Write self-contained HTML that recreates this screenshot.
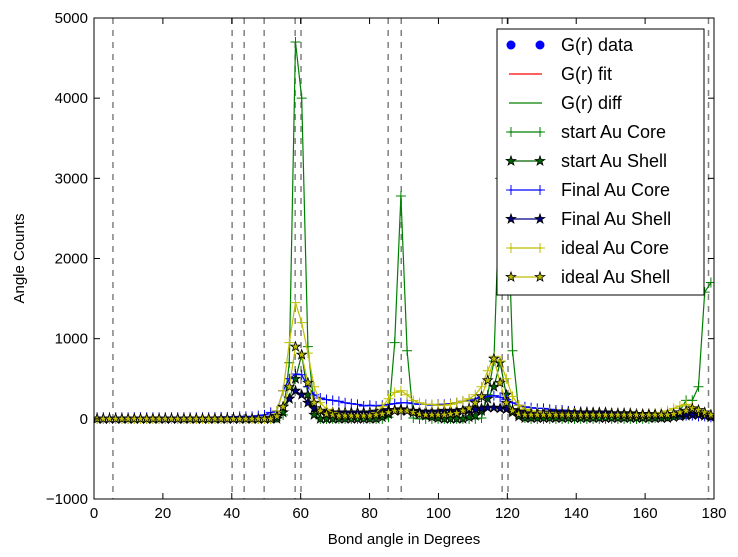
<!DOCTYPE html>
<html><head><meta charset="utf-8"><style>
body{margin:0;background:#fff;}
svg{display:block;font-family:"Liberation Sans",sans-serif;}
</style></head><body>
<svg id="chart" width="738" height="557"></svg>
<script>
const xTicks=[0,20,40,60,80,100,120,140,160,180];
const yTicks=[-1000,0,1000,2000,3000,4000,5000];
const vLines=[5.5,40.1,43.6,49.4,58.4,60.1,85.4,89.2,118.5,120.2,178.4];
const startCore=[0,0,0,0,0,0,0,0,0,0, 0,0,0,0,0,0,0,0,0,0, 0,0,0,0,0,0,0,0,0,10,
50,700,4700,4000,900,150,0,0,0,0, 0,0,0,0,0,0,0,20,950,2780, 850,10,0,0,0,0,0,0,0,0,
0,0,10,300,720,3000,3200,850,100,10, 0,0,0,0,0,0,0,0,0,0, 0,0,0,0,0,0,0,0,0,0,
10,20,30,60,100,230,230,400,1580,1700];
const startShell=[0,0,0,0,0,0,0,0,0,0, 0,0,0,0,0,0,0,0,0,0, 0,0,0,0,0,0,0,0,0,0,
80,250,500,800,300,50,0,0,0,0, 0,0,0,0,0,0,20,60,100,120, 100,80,60,40,20,10,0,0,0,0,
20,40,100,250,400,700,300,80,30,10, 10,10,10,10,10,10,10,10,10,10, 10,10,10,10,10,10,10,10,10,10,
10,10,10,20,30,40,50,60,40,20];
const finalCore=[20,20,20,20,20,20,20,20,20,20, 20,20,20,20,20,20,20,20,20,20, 25,25,25,30,30,30,40,50,80,100,
350,500,560,550,400,300,260,240,230,220, 200,190,180,160,170,160,170,180,190,200, 200,190,180,180,170,180,180,190,200,220,
230,250,270,280,290,270,240,200,170,150, 140,130,130,120,110,110,100,100,90,90, 80,80,80,70,70,70,60,60,60,60,
60,50,50,50,50,40,40,30,30,20];
const finalShell=[0,0,0,0,0,0,0,0,0,0, 0,0,0,0,0,0,0,0,0,0, 0,0,0,0,0,0,0,0,10,40,
150,250,350,300,200,130,100,90,80,80, 80,80,80,80,80,90,100,110,110,110, 100,100,90,90,90,90,100,100,100,110,
110,120,130,140,140,130,120,110,100,90, 80,80,80,80,80,80,80,80,80,80, 80,80,80,70,70,70,70,60,60,60,
60,60,60,60,60,60,50,50,40,30];
const idealCore=[0,0,0,0,0,0,0,0,0,0, 0,0,0,0,0,0,0,0,0,0, 0,0,0,0,0,0,0,0,0,100,
350,950,1450,1200,820,400,200,120,80,60, 60,50,50,50,60,80,150,250,330,350, 300,230,200,180,180,170,170,180,200,220,
250,300,400,600,780,720,500,280,170,120, 100,90,80,80,70,70,70,70,60,60, 60,60,60,60,60,60,60,60,60,60,
70,80,100,130,160,180,150,100,80,60];
const idealShell=[0,0,0,0,0,0,0,0,0,0, 0,0,0,0,0,0,0,0,0,0, 0,0,0,0,0,0,0,0,0,30,
150,400,900,800,450,200,100,60,50,40, 40,40,40,40,40,50,60,80,100,100, 100,80,60,50,50,50,50,60,70,100,
130,200,280,480,750,450,200,100,60,50, 50,50,50,50,50,50,50,50,50,50, 50,50,50,50,50,50,50,50,50,50,
50,50,50,60,80,100,130,110,80,50];
const angles=startCore.map((_,k)=>0.9+1.8*k);

const NS="http://www.w3.org/2000/svg";
const svg=document.getElementById('chart');
const L=94,R=714,T=18,B=499;
const sx=v=>L+(v-0)/180*(R-L);
const sy=v=>B-(v+1000)/6000*(B-T);
function el(tag,attrs,parent){const e=document.createElementNS(NS,tag);for(const k in attrs)e.setAttribute(k,attrs[k]);(parent||svg).appendChild(e);return e;}

const plot=el('g',{});


const clip=el('clipPath',{id:'cp'});el('rect',{x:L,y:T,width:R-L,height:B-T},clip);

// vertical dashed lines
vLines.forEach(v=>{
  const l=el('line',{x1:sx(v),x2:sx(v),y1:T,y2:B,stroke:'#808080','stroke-width':1.5,'stroke-dasharray':'6,6'},plot);
  
  
});

function starPts(cx,cy,r){let p=[];for(let i=0;i<10;i++){const a=-Math.PI/2+i*Math.PI/5;const rr=i%2?r*0.4:r;p.push((cx+rr*Math.cos(a)).toFixed(1)+','+(cy+rr*Math.sin(a)).toFixed(1));}return p.join(' ');}
function marker(g,type,x,y,color){
  if(type==='plus'){el('path',{d:`M${x-5},${y}H${x+5}M${x},${y-5}V${y+5}`,stroke:color,'stroke-width':1},g);}
  else{el('polygon',{points:starPts(x,y,5),fill:color,stroke:'#000','stroke-width':0.8},g);}
}
function series(vals,color,type,name){
  const g=el('g',{'clip-path':'url(#cp)'},plot);
  
  
  el('polyline',{points:vals.map((v,i)=>sx(angles[i])+','+sy(v)).join(' '),fill:'none',stroke:type==='star'?color==='y'?'#bfbf00':color:color,'stroke-width':1.2},g);
  vals.forEach((v,i)=>marker(g,type,sx(angles[i]),sy(v),color));
}
series(startCore,'#008000','plus','start-au-core-series');
series(startShell,'#006400','star','start-au-shell-series');
series(finalCore,'#0000ff','plus','final-au-core-series');
series(finalShell,'#000080','star','final-au-shell-series');
series(idealCore,'#bfbf00','plus','ideal-au-core-series');
series(idealShell,'#bfbf00','star','ideal-au-shell-series');

// frame
const frame=el('rect',{x:L,y:T,width:R-L,height:B-T,fill:'none',stroke:'#000','stroke-width':1});



xTicks.forEach(t=>{
  const x=sx(t);
  el('line',{x1:x,x2:x,y1:B,y2:B-6,stroke:'#000'});
  el('line',{x1:x,x2:x,y1:T,y2:T+6,stroke:'#000'});
  const tx=el('text',{x:x,y:B+19,'text-anchor':'middle','font-size':15});
  tx.textContent=t;
  
  
});
yTicks.forEach(t=>{
  const y=sy(t);
  el('line',{x1:L,x2:L+6,y1:y,y2:y,stroke:'#000'});
  el('line',{x1:R,x2:R-6,y1:y,y2:y,stroke:'#000'});
  const tx=el('text',{x:L-6,y:y+5,'text-anchor':'end','font-size':15});
  tx.textContent=t===-1000?'\u22121000':t;
  
  
});
const xl=el('text',{x:(L+R)/2,y:544,'text-anchor':'middle','font-size':15});
xl.textContent='Bond angle in Degrees';


const yl=el('text',{x:0,y:0,'text-anchor':'middle','font-size':15,transform:`translate(24,${(T+B)/2}) rotate(-90)`});
yl.textContent='Angle Counts';



// legend
const lg=el('g',{});


el('rect',{x:497,y:29,width:207,height:266,fill:'#fff',stroke:'#000','stroke-width':1},lg);
const legendLabels=['G(r) data','G(r) fit','G(r) diff','start Au Core','start Au Shell','Final Au Core','Final Au Shell','ideal Au Core','ideal Au Shell'];
const legendColors=['#0000ff','#ff0000','#008000','#008000','#006400','#0000ff','#000080','#bfbf00','#bfbf00'];
const legendTypes=['dots','line','line','plus','star','plus','star','plus','star'];
legendLabels.forEach((lab,i)=>{
  const y=45+i*29;
  const g=el('g',{},lg);
  
  
  const c=legendColors[i],t=legendTypes[i];
  if(t==='dots'){el('circle',{cx:511,cy:y,r:4.5,fill:c},g);el('circle',{cx:540,cy:y,r:4.5,fill:c},g);}
  else{
    el('line',{x1:509,x2:542,y1:y,y2:y,stroke:c,'stroke-width':1.2},g);
    if(t!=='line'){marker(g,t,511,y,c);marker(g,t,540,y,c);}
  }
  const tx=el('text',{x:561,y:y+6,'font-size':18},g);
  tx.textContent=lab;
});
</script>
</body></html>
